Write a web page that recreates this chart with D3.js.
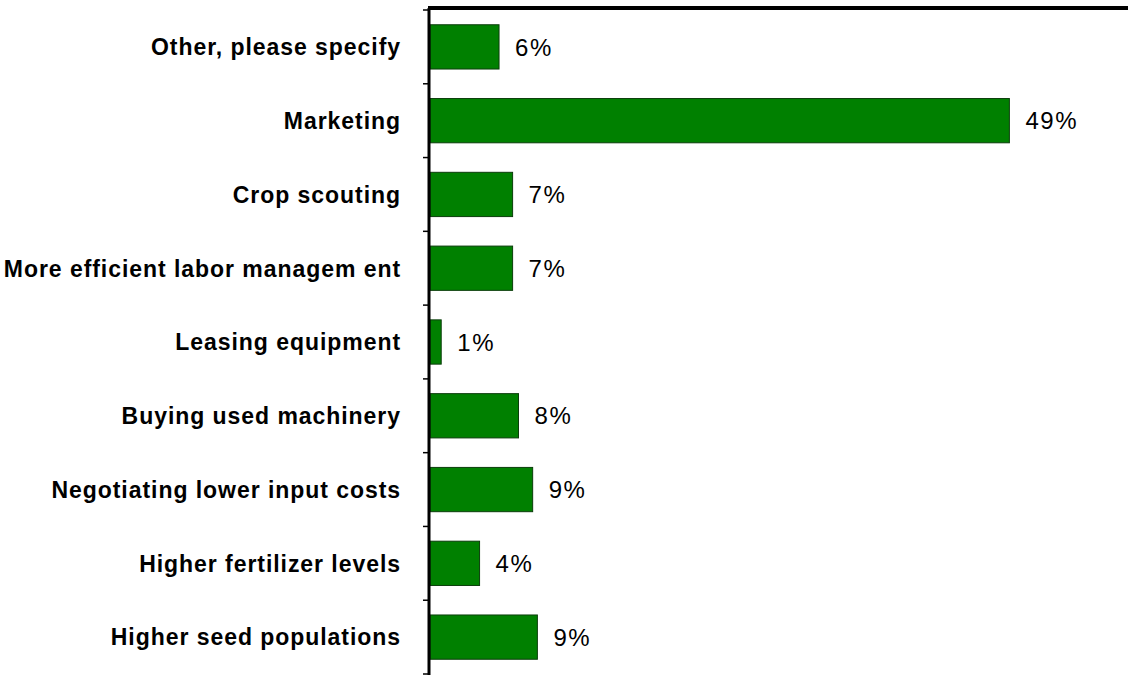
<!DOCTYPE html>
<html>
<head>
<meta charset="utf-8">
<script src="https://cdn.jsdelivr.net/npm/d3@7"></script>
<style>
  body { margin: 0; background: #fff; }
  .cat { font-family: "Liberation Sans", Arial, sans-serif; font-weight: bold; font-size: 23px; fill: #000; letter-spacing: 0.95px; }
  .val { font-family: "Liberation Sans", Arial, sans-serif; font-size: 24px; fill: #000; letter-spacing: 1.6px; }
</style>
</head>
<body>
<div id="chart"></div>
<script>
"use strict"

// categories, top to bottom
const categories = [
    "Other, please specify",
    "Marketing",
    "Crop scouting",
    "More efficient labor managem ent",
    "Leasing equipment",
    "Buying used machinery",
    "Negotiating lower input costs",
    "Higher fertilizer levels",
    "Higher seed populations"
]

// share of respondents (%)
const values = [5.85, 49.1, 7.0, 7.0, 0.95, 7.5, 8.7, 4.2, 9.1]

// printed labels
const valueLabels = ["6%", "49%", "7%", "7%", "1%", "8%", "9%", "4%", "9%"]

const xDomain = [0, 60]

const W = 1128, H = 675
const M = { top: 10, left: 430, bottom: 1, right: -10 }

const svg = d3.select("#chart").append("svg")
    .attr("width", W).attr("height", H)

const x = d3.scaleLinear().domain(xDomain)
    .range([M.left, W - M.right])

const y = d3.scaleBand().domain(categories)
    .range([M.top, H - M.bottom])
    .paddingInner(0.4).paddingOuter(0.2)

// bars
svg.append("g").selectAll("rect")
    .data(categories)
    .join("rect")
    .attr("x", x(0))
    .attr("y", (d) => y(d))
    .attr("width", (d, i) => x(values[i]) - x(0))
    .attr("height", y.bandwidth())
    .attr("fill", "#008000")
    .attr("stroke", "#0b3d0b")
    .attr("stroke-width", 1)

// value labels
svg.append("g").selectAll("text")
    .data(categories)
    .join("text")
    .attr("class", "val")
    .attr("x", (d, i) => x(values[i]) + 16)
    .attr("y", (d) => y(d) + y.bandwidth() / 2)
    .attr("dy", "0.36em")
    .text((d, i) => valueLabels[i])

// category axis, ticks at band edges
const yAxis = svg.append("g").attr("transform", "translate(" + (M.left - 1) + ",0)")
yAxis.append("line")
    .attr("x1", 0).attr("x2", 0)
    .attr("y1", M.top - 2).attr("y2", H)
    .attr("stroke", "#000").attr("stroke-width", 3)

const step = y.step()
const edges = categories.map((d) => y(d) - step * y.paddingInner() / 2)
edges.push(H - M.bottom)
yAxis.selectAll(".tk").data(edges).join("line")
    .attr("class", "tk")
    .attr("x1", -6).attr("x2", 0)
    .attr("y1", (d) => d).attr("y2", (d) => d)
    .attr("stroke", "#000").attr("stroke-width", 1.5)

yAxis.selectAll(".cat").data(categories).join("text")
    .attr("class", "cat")
    .attr("x", -28)
    .attr("y", (d) => y(d) + y.bandwidth() / 2)
    .attr("dy", "0.36em")
    .attr("text-anchor", "end")
    .text((d) => d)

// top frame line
svg.append("line")
    .attr("x1", M.left - 2).attr("x2", W)
    .attr("y1", M.top - 2).attr("y2", M.top - 2)
    .attr("stroke", "#000").attr("stroke-width", 4)
</script>
</body>
</html>
